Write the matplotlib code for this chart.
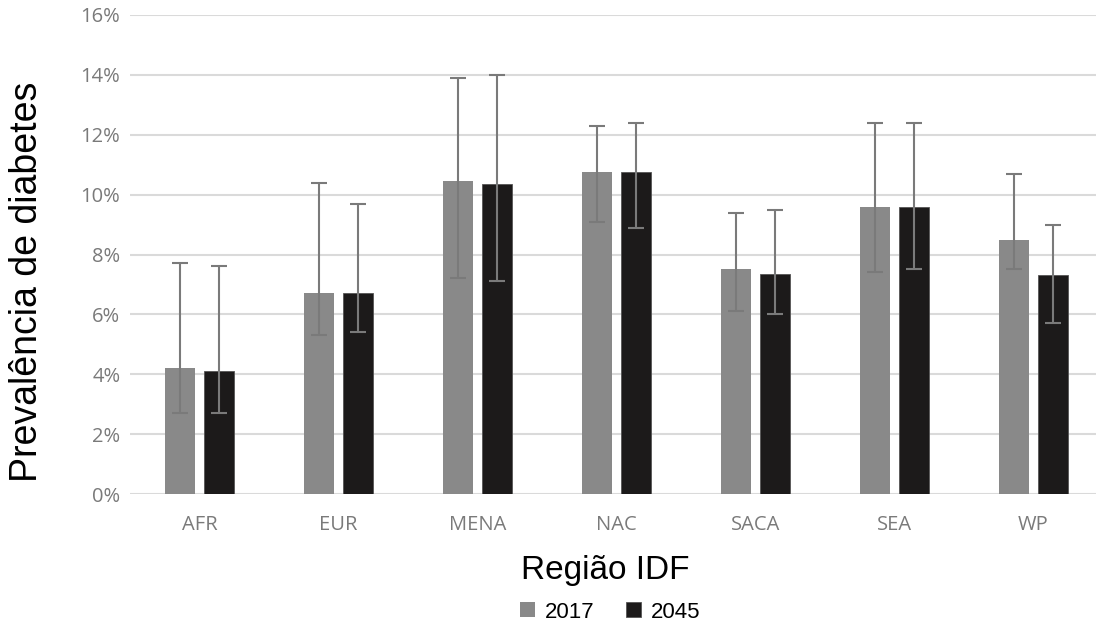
import matplotlib.pyplot as plt
import numpy as np

# IDF regions, diabetes prevalence (%) with uncertainty interval
regions = ["AFR", "EUR", "MENA", "NAC", "SACA", "SEA", "WP"]

prev_2017 = [4.2, 6.7, 10.45, 10.75, 7.5, 9.6, 8.5]
low_2017 = [2.7, 5.3, 7.2, 9.1, 6.1, 7.4, 7.5]
high_2017 = [7.7, 10.4, 13.9, 12.3, 9.4, 12.4, 10.7]

prev_2045 = [4.1, 6.7, 10.35, 10.75, 7.35, 9.6, 7.3]
low_2045 = [2.7, 5.4, 7.1, 8.9, 6.0, 7.5, 5.7]
high_2045 = [7.6, 9.7, 14.0, 12.4, 9.5, 12.4, 9.0]

yticks = [0, 2, 4, 6, 8, 10, 12, 14, 16]

W, H = 1096, 627
fig = plt.figure(figsize=(W / 100, H / 100), dpi=100)
ax = fig.add_axes([130 / W, 1 - 494 / H, 966 / W, 479 / H])

x = np.arange(len(regions))
width = 0.216
offset = 0.14

c17 = "#898989"
c45 = "#1c1a1a"
ecol = "#7a7a7a"


def yerr(vals, lo, hi):
    vals = np.array(vals)
    return [vals - np.array(lo), np.array(hi) - vals]


b17 = ax.bar(x - offset, prev_2017, width, color=c17, label="2017", zorder=2)
b45 = ax.bar(x + offset, prev_2045, width, color=c45, edgecolor="#555555",
             linewidth=0.6, label="2045", zorder=2)
ax.errorbar(x - offset, prev_2017, yerr=yerr(prev_2017, low_2017, high_2017),
            fmt="none", ecolor=ecol, elinewidth=1.5, capsize=6, capthick=1.5,
            zorder=3)
ax.errorbar(x + offset, prev_2045, yerr=yerr(prev_2045, low_2045, high_2045),
            fmt="none", ecolor=ecol, elinewidth=1.5, capsize=6, capthick=1.5,
            zorder=3)

ax.set_xlim(-0.5, 6.45)
ax.set_ylim(0, 16)
ax.set_yticks(yticks)
ax.set_yticklabels([f"{t}%" for t in yticks])
ax.set_xticks(x)
ax.set_xticklabels(regions)

for s in ax.spines.values():
    s.set_visible(False)
ax.grid(axis="y", color="#dadada", linewidth=1.5, zorder=0)
ax.set_axisbelow(True)
ax.tick_params(axis="both", length=0, labelsize=14.5, labelcolor="#7a7a7a")
ax.tick_params(axis="y", pad=7)
ax.tick_params(axis="x", pad=15)
for lbl in ax.get_xticklabels() + ax.get_yticklabels():
    lbl.set_fontfamily("Open Sans")

fig.text(27 / W, 1 - 282 / H, "Prevalência de diabetes", rotation=90,
         ha="center", va="center", fontsize=27, family="Liberation Sans")
fig.text(605 / W, 1 - 570 / H, "Região IDF", ha="center", va="center",
         fontsize=24, family="Liberation Sans")

fig.legend(handles=[b17, b45], loc="center", bbox_to_anchor=(610 / W, 1 - 612 / H),
           ncol=2, frameon=False, prop={"family": "Liberation Sans", "size": 16},
           handlelength=0.68, handleheight=0.68, handletextpad=0.45,
           columnspacing=1.4, borderpad=0)

fig.savefig("out.png", dpi=100, facecolor="white")
